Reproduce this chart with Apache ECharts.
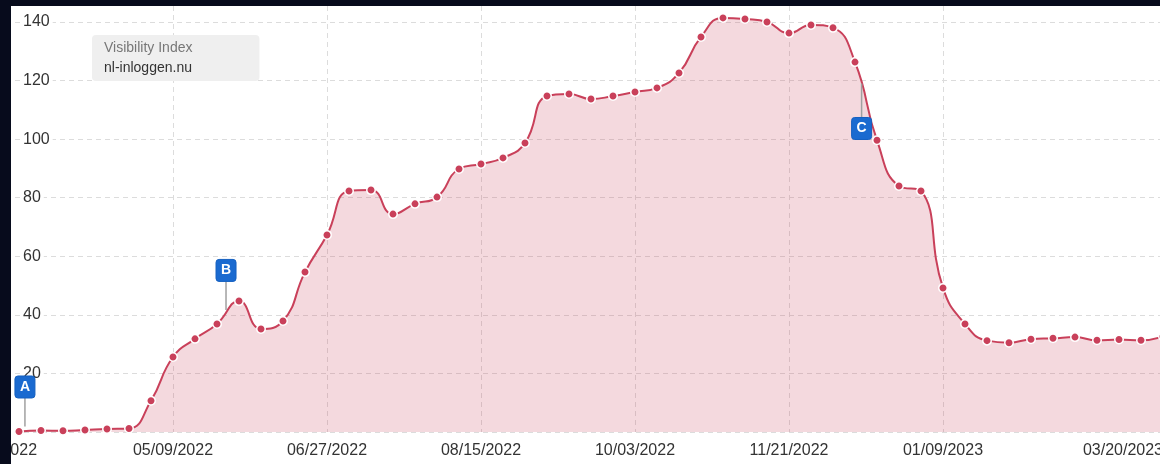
<!DOCTYPE html>
<html><head><meta charset="utf-8">
<script src="https://cdn.jsdelivr.net/npm/echarts@6/dist/echarts.min.js"></script>
<style>
html,body{margin:0;padding:0;background:#070b1c;width:1160px;height:464px;overflow:hidden;}
#chart{position:absolute;left:11px;top:6px;width:1149px;height:458px;background:#fff;}
</style></head><body><div id="chart"></div>
<script>
const categories = [
  '03/14/2022','03/21/2022','03/28/2022','04/04/2022','04/11/2022','04/18/2022','04/25/2022',
  '05/02/2022','05/09/2022','05/16/2022','05/23/2022','05/30/2022','06/06/2022','06/13/2022',
  '06/20/2022','06/27/2022','07/04/2022','07/11/2022','07/18/2022','07/25/2022','08/01/2022',
  '08/08/2022','08/15/2022','08/22/2022','08/29/2022','09/05/2022','09/12/2022','09/19/2022',
  '09/26/2022','10/03/2022','10/10/2022','10/17/2022','10/24/2022','10/31/2022','11/07/2022',
  '11/14/2022','11/21/2022','11/28/2022','12/05/2022','12/12/2022','12/19/2022','12/26/2022',
  '01/02/2023','01/09/2023','01/16/2023','01/23/2023','01/30/2023','02/06/2023','02/13/2023',
  '02/20/2023','02/27/2023','03/06/2023','03/13/2023','03/20/2023'
];
const visibility = [
  null,
  0.2, 0.5, 0.4, 0.7, 1.0, 1.2, 10.7, 25.6, 31.8, 36.9,
  44.7, 35.2, 37.9, 54.6, 67.3, 82.3, 82.6, 74.4, 77.9, 80.2,
  89.8, 91.5, 93.6, 98.7, 114.7, 115.4, 113.7, 114.7, 116.1, 117.5,
  122.6, 134.9, 141.4, 141.0, 140.0, 136.2, 139.0, 138.0, 126.3, 99.6,
  84.0, 82.3, 49.2, 36.9, 31.2, 30.5, 31.7, 32.0, 32.4, 31.3,
  31.6, 31.3, 32.6
];
const tickLabels = ['03/14/2022','05/09/2022','06/27/2022','08/15/2022','10/03/2022','11/21/2022','01/09/2023','03/20/2023'];
const eventLabels = ['A', 'B', 'C'];
const eventWeeks = [1.27, 10.41, 39.3];
const eventValues = [1.2, 41, 119];
const calloutBelow = ['C'];

const FONT = '"Liberation Sans", Arial, Helvetica, sans-serif';
const LINE = '#c9405a';
const isTick = (i, v) => tickLabels.indexOf(v) >= 0;

const chart = echarts.init(document.getElementById('chart'), null, {renderer: 'canvas'});
chart.setOption({
  animation: false,
  backgroundColor: '#fff',
  title: {
    left: 81, top: 29,
    text: 'Visibility Index',
    subtext: 'nl-inloggen.nu',
    backgroundColor: '#efefef',
    borderRadius: 4,
    padding: [3, 67, 3, 12],
    itemGap: 0,
    textStyle: {fontSize: 14, color: '#777', fontWeight: 'normal', lineHeight: 20, fontFamily: FONT},
    subtextStyle: {fontSize: 14, color: '#333', lineHeight: 20, fontFamily: FONT}
  },
  grid: {left: -14, right: -3, top: 0, bottom: 32, containLabel: false, outerBoundsMode: 'none'},
  xAxis: [{
    type: 'category',
    data: categories,
    boundaryGap: false,
    axisLine: {show: false},
    axisTick: {show: false},
    axisLabel: {
      interval: isTick, margin: 11, fontSize: 16, color: '#333', fontFamily: FONT,
      alignMaxLabel: 'right', hideOverlap: false
    },
    splitLine: {show: true, interval: isTick, lineStyle: {color: '#dcdcdc', type: [5, 4], width: 1}}
  }, {
    type: 'value', min: 0, max: categories.length - 1, show: false
  }],
  yAxis: {
    type: 'value', min: 0, max: 145.46, interval: 20,
    axisLine: {show: false}, axisTick: {show: false},
    axisLabel: {
      inside: true, margin: 23, fontSize: 16, color: '#333', fontFamily: FONT,
      backgroundColor: '#fff', padding: [0, 3],
      showMinLabel: false, showMaxLabel: false
    },
    splitLine: {show: true, showMaxLine: false, lineStyle: {color: '#dcdcdc', type: [5, 4], width: 1}}
  },
  series: [{
    type: 'line',
    data: visibility,
    smooth: 0.5,
    symbol: 'circle',
    symbolSize: 8.5,
    showSymbol: true,
    connectNulls: false,
    lineStyle: {color: LINE, width: 2},
    itemStyle: {color: LINE, borderColor: '#fff', borderWidth: 1.5},
    areaStyle: {color: LINE, opacity: 0.2},
    z: 2
  }, {
    type: 'custom',
    xAxisIndex: 1,
    z: 5,
    data: eventWeeks.map((w, i) => [w, eventValues[i]]),
    renderItem: function (params, api) {
      const p = api.coord([api.value(0), api.value(1)]);
      const label = eventLabels[params.dataIndex];
      const below = calloutBelow.indexOf(label) >= 0;
      const w = 20, h = 22;
      const boxY = below ? p[1] + 34 : p[1] - 30.5 - h;
      const lineY1 = below ? p[1] : p[1] - 30.5;
      const lineY2 = below ? p[1] + 34 : p[1] - 2;
      return {
        type: 'group',
        children: [
          {type: 'line', shape: {x1: p[0], y1: lineY1, x2: p[0], y2: lineY2},
           style: {stroke: '#a0a0a0', lineWidth: 1.5}},
          {type: 'rect', shape: {x: p[0] - w / 2, y: boxY, width: w, height: h, r: 3},
           style: {fill: '#1a6ad0', stroke: '#1560c0', lineWidth: 1}},
          {type: 'text', style: {text: label, x: p[0], y: boxY + h / 2, align: 'center', verticalAlign: 'middle',
           fill: '#fff', font: 'bold 14px ' + FONT}}
        ]
      };
    }
  }]
});
</script></body></html>
